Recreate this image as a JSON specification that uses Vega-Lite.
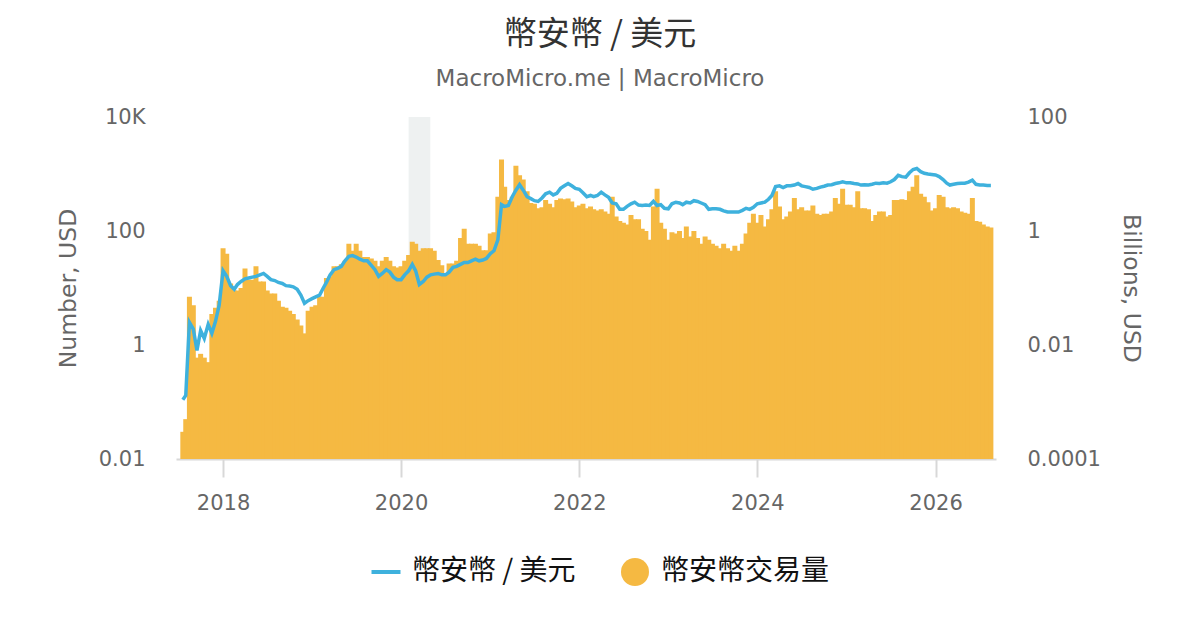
{
  "$schema": "https://vega.github.io/schema/vega-lite/v6.json",
  "width": 820,
  "height": 342,
  "autosize": "none",
  "padding": {"left": 176, "top": 117, "right": 204, "bottom": 171},
  "background": "white",
  "title": {
    "text": "幣安幣 / 美元",
    "subtitle": "MacroMicro.me | MacroMicro",
    "anchor": "middle",
    "dx": 14,
    "offset": 15,
    "font": "Noto Sans CJK TC",
    "fontSize": 33,
    "fontWeight": "normal",
    "color": "#333333",
    "subtitleFont": "DejaVu Sans",
    "subtitleFontSize": 23,
    "subtitleColor": "#666666",
    "subtitlePadding": 16
  },
  "data": {
    "values": [
      {"d": "2017-07-20", "p": 0.11, "v": 0.0003},
      {"d": "2017-08-01", "p": 0.13, "v": 0.0005},
      {"d": "2017-08-16", "p": 2.5, "v": 0.07},
      {"d": "2017-09-01", "p": 1.9, "v": 0.05},
      {"d": "2017-09-16", "p": 0.8, "v": 0.006},
      {"d": "2017-10-01", "p": 1.8, "v": 0.007},
      {"d": "2017-10-16", "p": 1.3, "v": 0.006},
      {"d": "2017-11-01", "p": 2.3, "v": 0.005},
      {"d": "2017-11-16", "p": 1.6, "v": 0.035},
      {"d": "2017-12-01", "p": 2.6, "v": 0.045},
      {"d": "2017-12-16", "p": 5, "v": 0.06},
      {"d": "2018-01-01", "p": 20, "v": 0.5},
      {"d": "2018-01-16", "p": 16, "v": 0.4},
      {"d": "2018-02-01", "p": 11, "v": 0.12},
      {"d": "2018-02-16", "p": 9.5, "v": 0.09},
      {"d": "2018-03-01", "p": 11.5, "v": 0.09},
      {"d": "2018-03-16", "p": 13, "v": 0.1},
      {"d": "2018-04-01", "p": 14.5, "v": 0.22},
      {"d": "2018-04-16", "p": 15, "v": 0.14},
      {"d": "2018-05-01", "p": 15.5, "v": 0.14},
      {"d": "2018-05-16", "p": 16, "v": 0.24},
      {"d": "2018-06-01", "p": 17, "v": 0.13},
      {"d": "2018-06-16", "p": 18, "v": 0.13},
      {"d": "2018-07-01", "p": 16, "v": 0.09},
      {"d": "2018-07-16", "p": 14, "v": 0.08},
      {"d": "2018-08-01", "p": 13.5, "v": 0.08},
      {"d": "2018-08-16", "p": 12.5, "v": 0.06},
      {"d": "2018-09-01", "p": 12, "v": 0.047},
      {"d": "2018-09-16", "p": 11, "v": 0.045},
      {"d": "2018-10-01", "p": 10.8, "v": 0.04},
      {"d": "2018-10-16", "p": 10.5, "v": 0.035},
      {"d": "2018-11-01", "p": 9.5, "v": 0.028},
      {"d": "2018-11-16", "p": 7.5, "v": 0.022},
      {"d": "2018-12-01", "p": 5.4, "v": 0.016},
      {"d": "2018-12-16", "p": 6, "v": 0.04},
      {"d": "2019-01-01", "p": 6.5, "v": 0.047},
      {"d": "2019-01-16", "p": 7, "v": 0.05},
      {"d": "2019-02-01", "p": 7.5, "v": 0.07},
      {"d": "2019-02-16", "p": 10, "v": 0.07},
      {"d": "2019-03-01", "p": 12.5, "v": 0.15},
      {"d": "2019-03-16", "p": 17, "v": 0.16},
      {"d": "2019-04-01", "p": 21, "v": 0.24},
      {"d": "2019-04-16", "p": 22, "v": 0.24},
      {"d": "2019-05-01", "p": 24, "v": 0.26},
      {"d": "2019-05-16", "p": 30, "v": 0.3},
      {"d": "2019-06-01", "p": 36, "v": 0.6},
      {"d": "2019-06-16", "p": 37, "v": 0.45},
      {"d": "2019-07-01", "p": 35, "v": 0.6},
      {"d": "2019-07-16", "p": 32, "v": 0.45},
      {"d": "2019-08-01", "p": 30, "v": 0.35},
      {"d": "2019-08-16", "p": 30, "v": 0.35},
      {"d": "2019-09-01", "p": 25, "v": 0.33},
      {"d": "2019-09-16", "p": 21, "v": 0.3},
      {"d": "2019-10-01", "p": 16, "v": 0.24},
      {"d": "2019-10-16", "p": 18, "v": 0.3},
      {"d": "2019-11-01", "p": 21, "v": 0.35},
      {"d": "2019-11-16", "p": 19, "v": 0.3},
      {"d": "2019-12-01", "p": 15.5, "v": 0.24},
      {"d": "2019-12-16", "p": 14, "v": 0.23},
      {"d": "2020-01-01", "p": 14, "v": 0.24},
      {"d": "2020-01-16", "p": 17, "v": 0.3},
      {"d": "2020-02-01", "p": 20, "v": 0.38},
      {"d": "2020-02-16", "p": 26, "v": 0.65},
      {"d": "2020-03-01", "p": 20, "v": 0.6},
      {"d": "2020-03-16", "p": 11.5, "v": 0.45},
      {"d": "2020-04-01", "p": 13, "v": 0.5},
      {"d": "2020-04-16", "p": 15.5, "v": 0.5},
      {"d": "2020-05-01", "p": 17, "v": 0.5},
      {"d": "2020-05-16", "p": 17.5, "v": 0.45},
      {"d": "2020-06-01", "p": 18, "v": 0.31},
      {"d": "2020-06-16", "p": 17, "v": 0.25},
      {"d": "2020-07-01", "p": 17, "v": 0.18},
      {"d": "2020-07-16", "p": 19, "v": 0.27},
      {"d": "2020-08-01", "p": 23, "v": 0.27},
      {"d": "2020-08-16", "p": 24, "v": 0.3},
      {"d": "2020-09-01", "p": 26, "v": 0.75},
      {"d": "2020-09-16", "p": 28, "v": 1.1},
      {"d": "2020-10-01", "p": 28, "v": 0.6},
      {"d": "2020-10-16", "p": 30, "v": 0.6},
      {"d": "2020-11-01", "p": 32, "v": 0.6},
      {"d": "2020-11-16", "p": 30, "v": 0.55},
      {"d": "2020-12-01", "p": 31, "v": 0.46},
      {"d": "2020-12-16", "p": 33, "v": 0.46},
      {"d": "2021-01-01", "p": 40, "v": 0.9},
      {"d": "2021-01-16", "p": 45, "v": 0.95},
      {"d": "2021-02-01", "p": 70, "v": 4},
      {"d": "2021-02-16", "p": 290, "v": 18},
      {"d": "2021-03-01", "p": 270, "v": 6},
      {"d": "2021-03-16", "p": 280, "v": 3.5},
      {"d": "2021-04-01", "p": 400, "v": 4},
      {"d": "2021-04-16", "p": 520, "v": 14},
      {"d": "2021-05-01", "p": 650, "v": 9.5},
      {"d": "2021-05-16", "p": 520, "v": 8},
      {"d": "2021-06-01", "p": 400, "v": 5},
      {"d": "2021-06-16", "p": 370, "v": 3.1},
      {"d": "2021-07-01", "p": 340, "v": 3},
      {"d": "2021-07-16", "p": 330, "v": 2.5},
      {"d": "2021-08-01", "p": 380, "v": 2.6},
      {"d": "2021-08-16", "p": 450, "v": 3.5},
      {"d": "2021-09-01", "p": 480, "v": 3},
      {"d": "2021-09-16", "p": 430, "v": 2.6},
      {"d": "2021-10-01", "p": 460, "v": 3.5},
      {"d": "2021-10-16", "p": 560, "v": 3.7},
      {"d": "2021-11-01", "p": 620, "v": 3.6},
      {"d": "2021-11-16", "p": 680, "v": 3.7},
      {"d": "2021-12-01", "p": 620, "v": 3.3},
      {"d": "2021-12-16", "p": 560, "v": 2.6},
      {"d": "2022-01-01", "p": 540, "v": 2.8},
      {"d": "2022-01-16", "p": 470, "v": 3},
      {"d": "2022-02-01", "p": 400, "v": 2.5},
      {"d": "2022-02-16", "p": 420, "v": 2.7},
      {"d": "2022-03-01", "p": 400, "v": 2.4},
      {"d": "2022-03-16", "p": 420, "v": 2.3},
      {"d": "2022-04-01", "p": 480, "v": 2.4},
      {"d": "2022-04-16", "p": 430, "v": 2.2},
      {"d": "2022-05-01", "p": 390, "v": 2},
      {"d": "2022-05-16", "p": 310, "v": 4},
      {"d": "2022-06-01", "p": 300, "v": 1.8},
      {"d": "2022-06-16", "p": 240, "v": 1.5},
      {"d": "2022-07-01", "p": 240, "v": 1.4},
      {"d": "2022-07-16", "p": 270, "v": 1.3},
      {"d": "2022-08-01", "p": 300, "v": 1.9},
      {"d": "2022-08-16", "p": 320, "v": 1.6},
      {"d": "2022-09-01", "p": 285, "v": 1.6},
      {"d": "2022-09-16", "p": 280, "v": 1.1},
      {"d": "2022-10-01", "p": 285, "v": 1},
      {"d": "2022-10-16", "p": 280, "v": 0.7},
      {"d": "2022-11-01", "p": 330, "v": 2.7},
      {"d": "2022-11-16", "p": 280, "v": 5.5},
      {"d": "2022-12-01", "p": 290, "v": 1.4},
      {"d": "2022-12-16", "p": 250, "v": 1.1},
      {"d": "2023-01-01", "p": 245, "v": 0.7},
      {"d": "2023-01-16", "p": 300, "v": 0.95},
      {"d": "2023-02-01", "p": 320, "v": 0.9},
      {"d": "2023-02-16", "p": 310, "v": 1},
      {"d": "2023-03-01", "p": 290, "v": 0.75},
      {"d": "2023-03-16", "p": 320, "v": 1.2},
      {"d": "2023-04-01", "p": 310, "v": 0.8},
      {"d": "2023-04-16", "p": 340, "v": 1},
      {"d": "2023-05-01", "p": 330, "v": 0.75},
      {"d": "2023-05-16", "p": 310, "v": 0.6},
      {"d": "2023-06-01", "p": 290, "v": 0.8},
      {"d": "2023-06-16", "p": 240, "v": 0.7},
      {"d": "2023-07-01", "p": 245, "v": 0.6},
      {"d": "2023-07-16", "p": 245, "v": 0.55},
      {"d": "2023-08-01", "p": 240, "v": 0.5},
      {"d": "2023-08-16", "p": 225, "v": 0.6},
      {"d": "2023-09-01", "p": 215, "v": 0.5},
      {"d": "2023-09-16", "p": 215, "v": 0.45},
      {"d": "2023-10-01", "p": 215, "v": 0.55},
      {"d": "2023-10-16", "p": 215, "v": 0.45},
      {"d": "2023-11-01", "p": 230, "v": 0.6},
      {"d": "2023-11-16", "p": 250, "v": 0.9},
      {"d": "2023-12-01", "p": 240, "v": 1.4},
      {"d": "2023-12-16", "p": 260, "v": 2},
      {"d": "2024-01-01", "p": 300, "v": 1.4},
      {"d": "2024-01-16", "p": 310, "v": 1.9},
      {"d": "2024-02-01", "p": 320, "v": 1.2},
      {"d": "2024-02-16", "p": 360, "v": 1.6},
      {"d": "2024-03-01", "p": 420, "v": 2.4},
      {"d": "2024-03-16", "p": 600, "v": 5},
      {"d": "2024-04-01", "p": 620, "v": 2.7},
      {"d": "2024-04-16", "p": 580, "v": 1.6},
      {"d": "2024-05-01", "p": 620, "v": 1.8},
      {"d": "2024-05-16", "p": 620, "v": 2.2},
      {"d": "2024-06-01", "p": 640, "v": 3.8},
      {"d": "2024-06-16", "p": 680, "v": 2.4},
      {"d": "2024-07-01", "p": 620, "v": 2.6},
      {"d": "2024-07-16", "p": 600, "v": 2.3},
      {"d": "2024-08-01", "p": 580, "v": 2.3},
      {"d": "2024-08-16", "p": 540, "v": 2.8},
      {"d": "2024-09-01", "p": 560, "v": 2},
      {"d": "2024-09-16", "p": 590, "v": 1.9},
      {"d": "2024-10-01", "p": 610, "v": 2},
      {"d": "2024-10-16", "p": 640, "v": 2},
      {"d": "2024-11-01", "p": 650, "v": 2.2},
      {"d": "2024-11-16", "p": 680, "v": 3.8},
      {"d": "2024-12-01", "p": 700, "v": 3},
      {"d": "2024-12-16", "p": 730, "v": 5.5},
      {"d": "2025-01-01", "p": 700, "v": 2.9},
      {"d": "2025-01-16", "p": 700, "v": 2.9},
      {"d": "2025-02-01", "p": 680, "v": 2.6},
      {"d": "2025-02-16", "p": 670, "v": 5},
      {"d": "2025-03-01", "p": 640, "v": 2.5},
      {"d": "2025-03-16", "p": 650, "v": 2.5},
      {"d": "2025-04-01", "p": 640, "v": 2.4},
      {"d": "2025-04-16", "p": 660, "v": 1.5},
      {"d": "2025-05-01", "p": 690, "v": 1.9},
      {"d": "2025-05-16", "p": 680, "v": 2.2},
      {"d": "2025-06-01", "p": 700, "v": 2.2},
      {"d": "2025-06-16", "p": 690, "v": 1.8},
      {"d": "2025-07-01", "p": 730, "v": 1.9},
      {"d": "2025-07-16", "p": 800, "v": 3.5},
      {"d": "2025-08-01", "p": 950, "v": 3.5},
      {"d": "2025-08-16", "p": 900, "v": 3.6},
      {"d": "2025-09-01", "p": 880, "v": 3.5},
      {"d": "2025-09-16", "p": 1050, "v": 5},
      {"d": "2025-10-01", "p": 1200, "v": 6},
      {"d": "2025-10-16", "p": 1250, "v": 9.5},
      {"d": "2025-11-01", "p": 1100, "v": 4.5},
      {"d": "2025-11-16", "p": 1030, "v": 4},
      {"d": "2025-12-01", "p": 1000, "v": 3.2},
      {"d": "2025-12-16", "p": 980, "v": 2.3},
      {"d": "2026-01-01", "p": 960, "v": 2.5},
      {"d": "2026-01-16", "p": 900, "v": 4.3},
      {"d": "2026-02-01", "p": 800, "v": 4},
      {"d": "2026-02-16", "p": 690, "v": 2.6},
      {"d": "2026-03-01", "p": 640, "v": 2.5},
      {"d": "2026-03-16", "p": 660, "v": 2.6},
      {"d": "2026-04-01", "p": 680, "v": 2.5},
      {"d": "2026-04-16", "p": 690, "v": 2.2},
      {"d": "2026-05-01", "p": 690, "v": 2.1},
      {"d": "2026-05-16", "p": 720, "v": 2},
      {"d": "2026-06-01", "p": 780, "v": 3.8},
      {"d": "2026-06-16", "p": 660, "v": 1.5},
      {"d": "2026-07-01", "p": 640, "v": 1.45},
      {"d": "2026-07-16", "p": 640, "v": 1.3},
      {"d": "2026-08-01", "p": 630, "v": 1.2},
      {"d": "2026-08-16", "p": 630, "v": 1.15}
    ]
  },
  "encoding": {
    "x": {
      "field": "d",
      "type": "temporal",
      "title": null,
      "scale": {"domain": [{"year": 2017, "month": 6, "date": 22}, {"year": 2026, "month": 9, "date": 6}], "padding": 0},
      "axis": {
        "values": [{"year": 2018}, {"year": 2020}, {"year": 2022}, {"year": 2024}, {"year": 2026}],
        "format": "%Y",
        "grid": false,
        "labelFont": "DejaVu Sans",
        "labelFontSize": 21,
        "labelColor": "#666666",
        "labelPadding": 15,
        "tickSize": 18,
        "tickWidth": 2,
        "tickColor": "#d8d8d8",
        "domainColor": "#d8d8d8",
        "domainWidth": 2
      }
    }
  },
  "layer": [
    {
      "data": {"values": [{"s": "2020-02-01", "e": "2020-04-30"}]},
      "mark": {"type": "rect", "color": "#eef1f1"},
      "encoding": {
        "x": {"field": "s", "type": "temporal"},
        "x2": {"field": "e"}
      }
    },
    {
      "mark": {"type": "bar", "size": 5},
      "encoding": {
        "y": {
          "field": "v",
          "type": "quantitative",
          "scale": {"type": "log", "domain": [0.0001, 100]},
          "axis": {
            "orient": "right",
            "values": [0.0001, 0.01, 1, 100],
            "labelExpr": "'' + datum.value",
            "title": "Billions, USD",
            "grid": false,
            "ticks": false,
            "tickSize": 0,
            "domain": false,
            "labelFont": "DejaVu Sans",
            "labelFontSize": 21,
            "labelColor": "#666666",
            "labelPadding": 31,
            "titleFont": "DejaVu Sans",
            "titleFontSize": 23.5,
            "titleFontWeight": "normal",
            "titleColor": "#666666",
            "titlePadding": 18
          }
        },
        "y2": {"datum": 0.0001},
        "color": {"datum": "幣安幣交易量"}
      }
    },
    {
      "mark": {"type": "line", "strokeWidth": 3.5},
      "encoding": {
        "y": {
          "field": "p",
          "type": "quantitative",
          "scale": {"type": "log", "domain": [0.01, 10000]},
          "axis": {
            "orient": "left",
            "values": [0.01, 1, 100, 10000],
            "labelExpr": "datum.value >= 10000 ? '10K' : '' + datum.value",
            "title": "Number, USD",
            "grid": false,
            "ticks": false,
            "tickSize": 0,
            "domain": false,
            "labelFont": "DejaVu Sans",
            "labelFontSize": 21,
            "labelColor": "#666666",
            "labelPadding": 31,
            "titleFont": "DejaVu Sans",
            "titleFontSize": 23.5,
            "titleFontWeight": "normal",
            "titleColor": "#666666",
            "titlePadding": 18
          }
        },
        "color": {
          "datum": "幣安幣 / 美元",
          "scale": {"domain": ["幣安幣 / 美元", "幣安幣交易量"], "range": ["#3eb1dd", "#f5b942"]},
          "legend": {
            "orient": "none",
            "legendX": 196,
            "legendY": 441,
            "direction": "horizontal",
            "title": null,
            "padding": 0,
            "labelFont": "Noto Sans CJK TC",
            "labelFontSize": 28,
            "labelColor": "#111111",
            "labelLimit": 400,
            "labelOffset": 12,
            "columnPadding": 45,
            "symbolSize": 841,
            "encode": {
              "symbols": {
                "update": {
                  "shape": {"signal": "datum.value === '幣安幣交易量' ? 'circle' : 'stroke'"},
                  "size": {"signal": "datum.value === '幣安幣交易量' ? 784 : 841"},
                  "strokeWidth": {"signal": "datum.value === '幣安幣交易量' ? 0 : 4"},
                  "fill": {"signal": "datum.value === '幣安幣交易量' ? '#f5b942' : 'transparent'"},
                  "stroke": {"signal": "datum.value === '幣安幣交易量' ? 'transparent' : '#3eb1dd'"},
                  "opacity": {"value": 1}
                }
              }
            }
          }
        }
      }
    }
  ],
  "resolve": {"scale": {"y": "independent"}, "axis": {"y": "independent"}},
  "config": {"view": {"stroke": null}}
}
